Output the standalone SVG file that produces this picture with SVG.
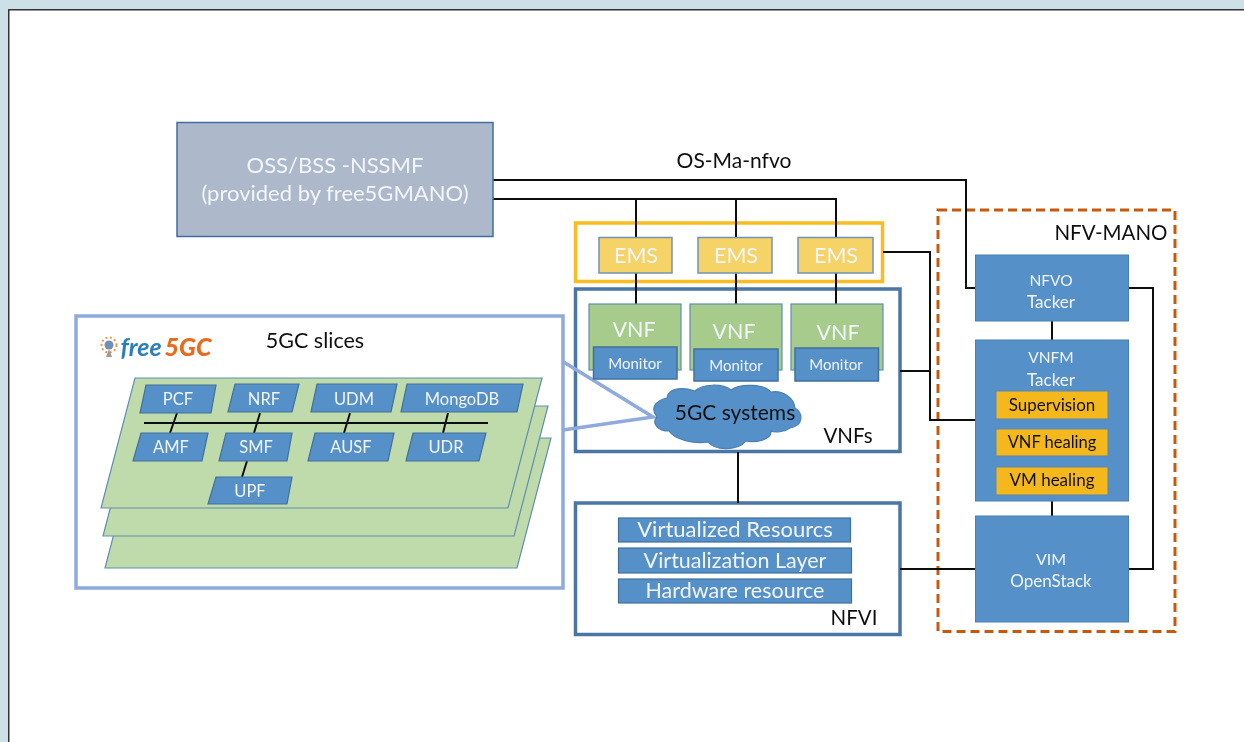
<svg xmlns="http://www.w3.org/2000/svg" width="1244" height="742" viewBox="0 0 1244 742">
<style>
text{font-family:Lato,"Open Sans","Liberation Sans",sans-serif;text-anchor:middle}
.w{fill:#f2f6fa}.k{fill:#111}
.line{fill:none;stroke:#111;stroke-width:2}
.blue{fill:#5690c9;stroke:#4a7fb3;stroke-width:1}
.nf{fill:#5690c9;stroke:#41719c;stroke-width:1.2}
.slice{fill:#c0dbab;stroke:#5f8fb0;stroke-width:1.2}
.ems{fill:#f6d366;stroke:#6f94b8;stroke-width:1.5}
.vnf{fill:#a6cb8a;stroke:#5f8fb0;stroke-width:1.2}
.mon{fill:#5690c9;stroke:#41719c;stroke-width:1.5}
.yel{fill:#f5b81c;stroke:#5f87ad;stroke-width:1}
.frame{fill:#fff;stroke:#4a76a3;stroke-width:3.5}
.link{fill:none;stroke:#8faadc;stroke-width:3.5}
</style>
<defs><filter id="soft" x="0" y="0" width="100%" height="100%"><feGaussianBlur stdDeviation="0.6"/></filter></defs>
<rect width="1244" height="742" fill="#cde0e8"/>
<g filter="url(#soft)">
<rect x="8.5" y="9.5" width="1240" height="740" fill="#fff" stroke="#333" stroke-width="2"/>

<g id="slices-frame">
<rect x="76" y="316" width="487" height="272" fill="#fff" stroke="#8faadc" stroke-width="3.5"/>
<text x="315" y="348" font-size="21.500" class="k">5GC slices</text>
</g>
<g id="logo">
<circle cx="109" cy="345" r="4.5" fill="#6f8fb5"/>
<circle cx="109" cy="345" r="7.5" fill="none" stroke="#ee9a4d" stroke-width="2" stroke-dasharray="2 2.5"/>
<path d="M109 349l-3 8h6z" fill="#9a9a9a"/>
<text x="141" y="356" font-size="25" font-style="italic" font-weight="700" fill="#2a7fb8">free</text>
<text x="188" y="356" font-size="25" font-style="italic" font-weight="900" fill="#ea6a1e">5GC</text>
</g>

<g id="slice-3"><polygon class="slice" points="139,438 551,438 517,568 105,568"/></g>
<g id="slice-2"><polygon class="slice" points="137,406 548,406 514,536 103,536"/></g>
<g id="slice-1"><polygon class="slice" points="135,378 542,378 508,508 101,508"/></g>

<g id="slice-connectors">
<path class="line" d="M144 423H488M177 413L170 433M260 413L254 433M350 413L344 433M448 413L443 433M247 461L242 477"/>
</g>
<g id="pcf"><polygon class="nf" points="146,385 216,385 211,413 140,413"/><text x="178" y="405" font-size="16.500" class="w">PCF</text></g>
<g id="nrf"><polygon class="nf" points="235,384 299,384 292,412 228,412"/><text x="264" y="405" font-size="16.500" class="w">NRF</text></g>
<g id="udm"><polygon class="nf" points="317,384 397,384 391,412 311,412"/><text x="354" y="405" font-size="16.500" class="w">UDM</text></g>
<g id="mongodb"><polygon class="nf" points="407,384 523,384 517,412 401,412"/><text x="462" y="405" font-size="16.500" class="w">MongoDB</text></g>
<g id="amf"><polygon class="nf" points="141,433 208,433 202,461 133,461"/><text x="171" y="453" font-size="16.500" class="w">AMF</text></g>
<g id="smf"><polygon class="nf" points="226,433 292,433 287,461 219,461"/><text x="256" y="453" font-size="16.500" class="w">SMF</text></g>
<g id="ausf"><polygon class="nf" points="315,433 394,433 388,461 308,461"/><text x="351" y="453" font-size="16.500" class="w">AUSF</text></g>
<g id="udr"><polygon class="nf" points="413,433 486,433 479,461 406,461"/><text x="446" y="453" font-size="16.500" class="w">UDR</text></g>
<g id="upf"><polygon class="nf" points="216,477 292,477 287,504 208,504"/><text x="250" y="497" font-size="16.500" class="w">UPF</text></g>

<g id="ems-frame"><rect x="575.500" y="223" width="307" height="58.500" fill="#fff" stroke="#f9bd20" stroke-width="3.500"/></g>
<g id="vnfs-frame"><rect class="frame" x="575.500" y="289" width="324.500" height="162.500"/><text x="848" y="443" font-size="20.500" class="k">VNFs</text></g>
<g id="nfvi-frame"><rect class="frame" x="575.500" y="503" width="324.500" height="131.500"/><text x="854" y="625" font-size="20.500" class="k">NFVI</text></g>
<g id="mano-frame"><rect x="938" y="210" width="237" height="421.500" fill="#fff" stroke="#c55a11" stroke-width="3" stroke-dasharray="9 5"/><text x="1111" y="240" font-size="20.500" class="k">NFV-MANO</text></g>

<g id="connectors">
<path class="line" d="M493 180H966V288H976"/>
<path class="line" d="M493 199H836V237M636 199V237M736 199V237"/>
<path class="line" d="M636 273V304M736 273V304M836 273V304"/>
<path class="line" d="M883 252H930V420H976M900 371H930"/>
<path class="line" d="M1129 288H1153V569H1129"/>
<path class="line" d="M900 569H976M1052 321V340M1052 501V516M738 452V503"/>
<path class="link" d="M562 361L653 417L563 430"/>
</g>

<g id="oss"><rect x="177" y="122.500" width="316" height="114" fill="#adb9ca" stroke="#3f6ea3" stroke-width="1.500"/><text x="335" y="173" font-size="22" class="w">OSS/BSS -NSSMF</text><text x="335" y="201" font-size="22" class="w">(provided by free5GMANO)</text></g>
<text id="os-ma-label" x="734" y="168" font-size="21" class="k">OS-Ma-nfvo</text>

<g id="ems1"><rect class="ems" x="599" y="237.500" width="73" height="35.500"/><text x="636" y="263" font-size="21.500" class="w">EMS</text></g>
<g id="ems2"><rect class="ems" x="698" y="237.500" width="74" height="35.500"/><text x="736" y="263" font-size="21.500" class="w">EMS</text></g>
<g id="ems3"><rect class="ems" x="798" y="237.500" width="75" height="35.500"/><text x="836" y="263" font-size="21.500" class="w">EMS</text></g>

<g id="vnf1"><rect class="vnf" x="589" y="304" width="92" height="66"/><text x="634" y="337" font-size="21.500" class="w">VNF</text><rect class="mon" x="593.500" y="347" width="83.500" height="32"/><text x="635" y="369" font-size="15" class="w">Monitor</text></g>
<g id="vnf2"><rect class="vnf" x="690" y="304" width="92" height="66"/><text x="734" y="339" font-size="21.500" class="w">VNF</text><rect class="mon" x="694" y="349" width="84" height="32"/><text x="736" y="371" font-size="15" class="w">Monitor</text></g>
<g id="vnf3"><rect class="vnf" x="791" y="304" width="92" height="66"/><text x="838" y="340" font-size="21.500" class="w">VNF</text><rect class="mon" x="795" y="348" width="83.500" height="33"/><text x="836" y="370" font-size="15" class="w">Monitor</text></g>

<g id="cloud">
<path d="M667 398C668 389 680 386 695 391C702 384 722 383 731 390C740 383 765 384 771 392C783 390 794 398 795 408C804 414 803 426 790 428C784 432 775 433 771 431C772 440 755 443 746 441C738 451 715 451 708 442C694 444 675 440 669 431C658 431 651 423 657 417C650 408 655 401 667 398Z" fill="#5690c9" stroke="#4a7fb3" stroke-width="1.200"/>
<text x="735" y="420" font-size="21" class="k">5GC systems</text>
</g>

<g id="virt-res"><rect class="nf" x="618.500" y="518" width="232" height="24"/><text x="735" y="537" font-size="22" class="w">Virtualized Resourcs</text></g>
<g id="virt-layer"><rect class="nf" x="618.500" y="548" width="233" height="25"/><text x="735" y="568" font-size="21.500" class="w">Virtualization Layer</text></g>
<g id="hw-res"><rect class="nf" x="618.500" y="579" width="233" height="24"/><text x="735" y="598" font-size="21.500" class="w">Hardware resource</text></g>

<g id="nfvo"><rect class="blue" x="975.500" y="255" width="153" height="66"/><text x="1051" y="286" font-size="15.500" class="w">NFVO</text><text x="1051" y="308" font-size="17" class="w">Tacker</text></g>
<g id="vnfm"><rect class="blue" x="975.500" y="340" width="153" height="161"/><text x="1051" y="363" font-size="15.500" class="w">VNFM</text><text x="1051" y="386" font-size="17" class="w">Tacker</text>
<rect class="yel" x="996" y="391" width="112" height="28"/><text x="1052" y="411" font-size="17" class="k">Supervision</text>
<rect class="yel" x="996" y="429" width="112" height="27"/><text x="1052" y="448" font-size="16.500" class="k">VNF healing</text>
<rect class="yel" x="996" y="467" width="112" height="28"/><text x="1052" y="486" font-size="17" class="k">VM healing</text></g>
<g id="vim"><rect class="blue" x="975.500" y="516" width="153" height="106"/><text x="1051" y="565" font-size="16" class="w">VIM</text><text x="1051" y="587" font-size="17" class="w">OpenStack</text></g>
</g>
</svg>
